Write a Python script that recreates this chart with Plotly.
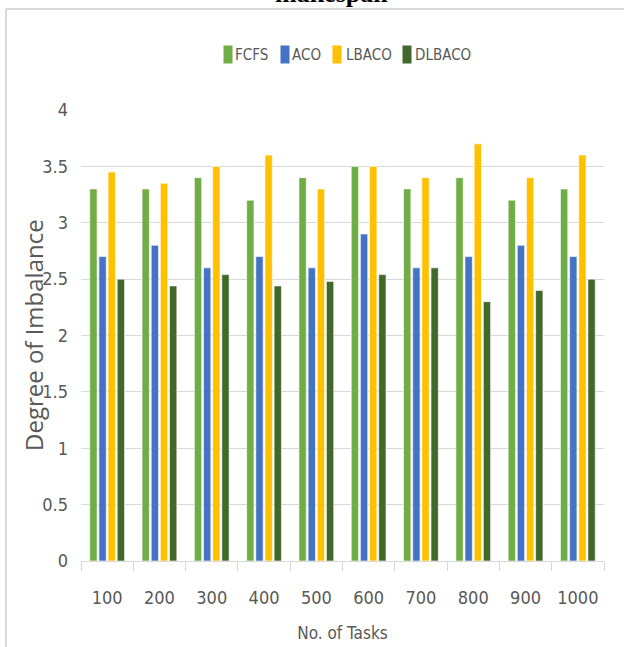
import plotly.graph_objects as go

categories = ["100", "200", "300", "400", "500", "600", "700", "800", "900", "1000"]
fcfs = [3.3, 3.3, 3.4, 3.2, 3.4, 3.5, 3.3, 3.4, 3.2, 3.3]
aco = [2.7, 2.8, 2.6, 2.7, 2.6, 2.9, 2.6, 2.7, 2.8, 2.7]
lbaco = [3.45, 3.35, 3.5, 3.6, 3.3, 3.5, 3.4, 3.7, 3.4, 3.6]
dlbaco = [2.5, 2.44, 2.54, 2.44, 2.48, 2.54, 2.6, 2.3, 2.4, 2.5]

series_names = ["FCFS", "ACO", "LBACO", "DLBACO"]
series_values = [fcfs, aco, lbaco, dlbaco]
series_colors = ["#70AD47", "#4472C4", "#FFC000", "#43682B"]

W, H = 624, 647
ML, MR, MT, MB = 81, 20, 110, 86
PW, PH = W - ML - MR, H - MT - MB

narrow = "Liberation Sans Narrow, DejaVu Sans Condensed, Arial Narrow, sans-serif"
gray = "#595959"


def px_x(p):
    return (p - ML) / PW


def px_y(p):
    return 1 - (p - MT) / PH


fig = go.Figure()
for name, vals, col in zip(series_names, series_values, series_colors):
    fig.add_trace(go.Bar(x=categories, y=vals, name=name, showlegend=False,
                         marker=dict(color=col, line=dict(color="white", width=0.6))))

# legend drawn as swatch + label (positions in pixels)
legend_swatch_x = [223, 280, 332, 402]
legend_text_x = [233, 290, 344, 413]
legend_y = 55
annotations = []
for name, col, sx, tx in zip(series_names, series_colors, legend_swatch_x, legend_text_x):
    annotations.append(dict(text=" ", xref="paper", yref="paper", x=px_x(sx), y=px_y(legend_y),
                            xanchor="left", yanchor="middle", showarrow=False,
                            width=8, height=17, bgcolor=col, borderpad=0,
                            font=dict(size=4)))
    annotations.append(dict(text=name, xref="paper", yref="paper", x=px_x(tx), y=px_y(legend_y),
                            xanchor="left", yanchor="middle", showarrow=False,
                            font=dict(family=narrow, size=15, color=gray)))

annotations.append(dict(text="<b>makespan</b>", xref="paper", yref="paper", x=px_x(331), y=px_y(-6.5),
                        xanchor="center", yanchor="middle", showarrow=False,
                        font=dict(family="Liberation Serif, DejaVu Serif, serif", size=26, color="black")))

annotations.append(dict(text="Degree of Imbalance", xref="paper", yref="paper",
                        x=px_x(33), y=px_y(335), xanchor="center", yanchor="middle",
                        textangle=-90, showarrow=False,
                        font=dict(family="Open Sans, DejaVu Sans, sans-serif", size=24, color=gray)))

fig.update_layout(
    width=W, height=H,
    margin=dict(l=ML, r=MR, t=MT, b=MB),
    paper_bgcolor="white", plot_bgcolor="white",
    barmode="group", bargap=0.3, bargroupgap=0.2,
    font=dict(family=narrow, color=gray, size=18),
    showlegend=False,
    xaxis=dict(type="category", showgrid=False, showline=True, linecolor="#D9D9D9", linewidth=1,
               automargin=False,
               ticks="outside", tickson="boundaries", ticklen=9, tickcolor="#D9D9D9",
               ticklabelstandoff=20,
               tickfont=dict(family=narrow, size=18, color=gray),
               title=dict(text="No. of Tasks", font=dict(family=narrow, size=17, color=gray), standoff=20)),
    yaxis=dict(range=[0, 4], dtick=0.5, showgrid=True, gridcolor="#D9D9D9", gridwidth=1,
               automargin=False,
               zeroline=False, showline=False, ticks="", ticklabelstandoff=12,
               tickfont=dict(family=narrow, size=18, color=gray)),
    shapes=[
        dict(type="line", xref="paper", yref="paper", x0=px_x(6), x1=px_x(6), y0=px_y(9), y1=px_y(660),
             line=dict(color="#D9D9D9", width=2)),
        dict(type="line", xref="paper", yref="paper", x0=px_x(6), x1=px_x(640), y0=px_y(9), y1=px_y(9),
             line=dict(color="#D9D9D9", width=2)),
    ],
    annotations=annotations,
)

fig.write_html("out.html", config={"displayModeBar": False},
               post_script="document.body.style.margin='0';")
